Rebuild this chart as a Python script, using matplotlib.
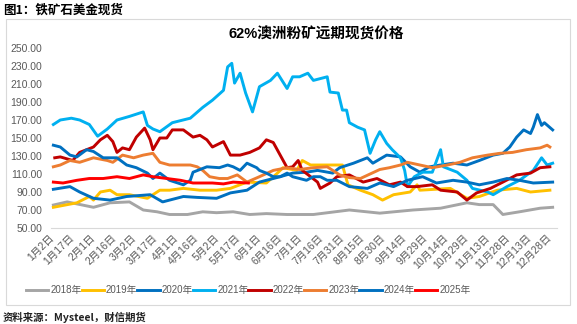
import matplotlib
matplotlib.use("Agg")
import matplotlib.pyplot as plt
from matplotlib.patches import Rectangle

plt.rcParams['font.family'] = ['Liberation Sans', 'Noto Sans CJK SC']

# Category ticks every 15 days along the year
tick_days = list(range(0, 361, 15))
tick_labels = ["1月2日", "1月17日", "2月1日", "2月16日", "3月2日", "3月17日", "4月1日",
               "4月16日", "5月2日", "5月17日", "6月1日", "6月16日", "7月1日", "7月16日",
               "7月31日", "8月15日", "8月30日", "9月14日", "9月29日", "10月14日",
               "10月29日", "11月13日", "11月28日", "12月13日", "12月28日"]

# Day offsets from Jan 2 and prices (USD/t) for each year
days_2018 = [1, 11, 30, 42, 56, 66, 76, 85, 98, 109, 119, 131, 143, 155, 170, 189, 215,
             237, 261, 281, 300, 309, 319, 326, 338, 353, 362]
vals_2018 = [75.5, 79, 73, 78, 79, 70, 68, 65, 65, 68, 67, 68, 65, 66, 65, 65, 70,
             66.5, 70, 72, 78, 76, 76, 65, 68, 72, 73]

days_2019 = [1, 18, 27, 30, 35, 42, 47, 56, 69, 78, 85, 95, 107, 119, 129, 141, 155, 163,
             167, 177, 181, 187, 194, 206, 210, 214, 223, 232, 239, 247, 259, 264, 266,
             288, 300, 309, 322, 336, 346, 360]
vals_2019 = [73, 78, 85, 81, 90, 92, 87, 87, 83, 92, 92, 94, 92, 92, 94, 101, 100, 111,
             117, 114, 125, 120, 120, 120, 120, 98, 92, 87, 81, 87, 90, 98, 92,
             94, 83, 85, 92, 94, 90, 92]

days_2020 = [1, 13, 20, 30, 42, 54, 71, 80, 95, 105, 119, 129, 141, 150, 165, 174, 184,
             192, 203, 208, 218, 228, 232, 242, 252, 259, 266, 273, 281, 290, 300, 309,
             319, 326, 331, 336, 341, 346, 348, 351, 354, 356, 362]
vals_2020 = [93, 96, 90, 83, 81, 85, 87, 79, 85, 84, 83, 89, 92, 101, 107, 111, 112,
             114, 111, 117, 122, 128, 122, 131, 129, 118, 112, 118, 120, 122, 120, 125,
             131, 133, 140, 151, 159, 155, 162, 176, 164, 167, 159]

days_2021 = [1, 6, 14, 20, 27, 33, 40, 47, 56, 66, 69, 73, 78, 87, 100, 109, 116, 124,
             127, 130, 132, 136, 140, 145, 150, 158, 163, 170, 174, 179, 185, 189, 199,
             201, 207, 210, 213, 215, 221, 226, 230, 234, 237, 242, 246, 252, 255, 257,
             262, 268, 275, 281, 283, 293, 300, 304, 315, 319, 329, 338, 348, 354, 358,
             362]
vals_2021 = [165, 170, 172, 170, 165, 152, 160, 170, 174, 179, 164, 160, 157, 167, 172,
             184, 192, 203, 229, 233, 211, 222, 200, 179, 207, 214, 222, 205, 218, 218,
             222, 214, 218, 201, 200, 181, 181, 167, 162, 159, 133, 148, 157, 144, 137,
             128, 114, 96, 107, 112, 112, 137, 118, 112, 103, 94, 90, 87, 96, 103, 114,
             128, 120, 122]

days_2022 = [2, 6, 15, 20, 25, 30, 35, 40, 44, 47, 51, 56, 61, 67, 71, 73, 78, 83, 87,
             95, 102, 107, 112, 116, 124, 129, 136, 143, 150, 155, 160, 165, 170, 174,
             178, 181, 187, 192, 194, 201, 206, 215, 225, 235, 244, 252, 257, 264, 275,
             281, 293, 300, 307, 317, 326, 336, 346, 353, 360]
vals_2022 = [128, 129, 125, 134, 137, 140, 148, 153, 146, 134, 139, 137, 151, 161, 148,
             137, 150, 150, 159, 159, 151, 153, 148, 140, 146, 131, 131, 134, 139, 148,
             145, 131, 117, 118, 125, 114, 107, 101, 94, 100, 107, 109, 101, 105, 98,
             101, 96, 96, 98, 92, 90, 81, 89, 94, 101, 109, 111, 117, 118]

days_2023 = [1, 6, 13, 20, 30, 40, 44, 51, 59, 66, 73, 78, 85, 100, 105, 109, 114, 121,
             127, 134, 141, 150, 160, 170, 179, 189, 199, 208, 215, 223, 230, 237, 244,
             252, 257, 266, 275, 286, 295, 304, 315, 324, 333, 343, 353, 358, 360]
vals_2023 = [118, 120, 125, 123, 128, 125, 123, 131, 128, 131, 133, 123, 120, 120, 118,
             114, 107, 105, 105, 109, 101, 107, 114, 117, 115, 117, 118, 109, 106, 105,
             110, 115, 117, 120, 123, 120, 117, 120, 123, 128, 131, 133, 134, 137, 139,
             142, 140]

days_2024 = [1, 6, 13, 18, 25, 30, 37, 47, 54, 61, 69, 73, 78, 85, 95, 100, 102, 112,
             121, 127, 131, 136, 141, 148, 150, 155, 160, 165, 170, 174, 184, 189, 194,
             199, 206, 215, 228, 237, 247, 257, 268, 278, 290, 300, 309, 319, 329, 338,
             348, 362]
vals_2024 = [142, 140, 131, 129, 137, 135, 128, 128, 120, 117, 111, 105, 111, 103, 98,
             103, 112, 118, 117, 120, 118, 114, 122, 117, 114, 111, 107, 107, 111, 107,
             103, 107, 107, 103, 103, 96, 94, 100, 96, 103, 107, 100, 103, 101, 98, 101,
             105, 103, 100, 101]

days_2025 = [1, 8, 18, 27, 37, 47, 56, 66, 73, 83, 93, 102, 116, 124, 131, 142]
vals_2025 = [101, 100, 103, 105, 105, 107, 105, 109, 107, 105, 103, 100, 100, 99, 101, 100]

series = [
    ("2018年", days_2018, vals_2018, "#A5A5A5"),
    ("2019年", days_2019, vals_2019, "#FFC000"),
    ("2020年", days_2020, vals_2020, "#0070C0"),
    ("2021年", days_2021, vals_2021, "#00B0F0"),
    ("2022年", days_2022, vals_2022, "#C00000"),
    ("2023年", days_2023, vals_2023, "#ED7D31"),
    ("2024年", days_2024, vals_2024, "#0070C0"),
    ("2025年", days_2025, vals_2025, "#FF0000"),
]

W, H = 577, 324
fig = plt.figure(figsize=(W / 100, H / 100), dpi=100)

# outer frame around the chart block
fig.patches.append(Rectangle((6 / W, 1 - 305 / H), (570 - 6) / W, (305 - 19) / H,
                             transform=fig.transFigure, fill=False,
                             edgecolor="#D9D9D9", linewidth=0.8))

ax = fig.add_axes([50.6 / W, 1 - 228 / H, (556.8 - 50.6) / W, 180 / H])
for name, d, v, c in series:
    ax.plot(d, v, color=c, linewidth=2.1, label=name, solid_joinstyle="round")

ax.set_xlim(-1, 365)
ax.set_ylim(50, 250)
ax.set_yticks(range(50, 251, 20))
ax.set_yticklabels([f"{t:.2f}" for t in range(50, 251, 20)])
ax.set_xticks(tick_days)
ax.set_xticklabels(tick_labels, rotation=45, ha="right", va="center",
                   rotation_mode="anchor")
ax.tick_params(axis="both", length=0, labelsize=7.5, colors="#595959")
ax.tick_params(axis="x", pad=6)
ax.tick_params(axis="y", pad=6)
for s in ("top", "right", "left"):
    ax.spines[s].set_visible(False)
ax.spines["bottom"].set_color("#D9D9D9")
ax.spines["bottom"].set_linewidth(0.8)

fig.text(316 / W, 1 - 34 / H, "62%澳洲粉矿远期现货价格", ha="center", va="center",
         fontsize=10.5, fontweight="bold", color="black",
         family=["Liberation Sans", "Noto Sans CJK SC"])

fig.text(3 / W, 1 - 10 / H, "图1：铁矿石美金现货", ha="left", va="center",
         fontsize=9, fontweight="bold", color="black",
         family=["Noto Sans CJK SC"])
fig.text(3 / W, 1 - 317 / H, "资料来源：Mysteel，财信期货", ha="left", va="center",
         fontsize=7.5, fontweight="bold", color="#222222", style="italic",
         family=["Noto Sans CJK SC"])

fig.legend(loc="center left", bbox_to_anchor=(26 / W, 1 - 290 / H), ncol=8,
           frameon=False, fontsize=7, handlelength=2.3, handletextpad=0.2,
           columnspacing=0.0, borderaxespad=0, borderpad=0,
           labelcolor="#595959")

fig.savefig("out.png", dpi=100, facecolor="white")
